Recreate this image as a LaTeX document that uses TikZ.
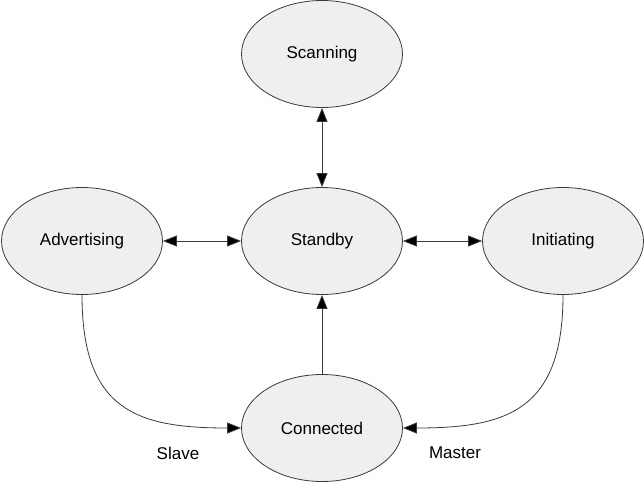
\documentclass[tikz,border=0pt]{standalone}
\usepackage{fontspec}
\setmainfont{Liberation Sans}
\usetikzlibrary{shapes.geometric,arrows.meta}
\definecolor{statefill}{HTML}{EFEFEF}
\definecolor{edge}{HTML}{3A3A3A}
\begin{document}
\begin{tikzpicture}[x=1pt,y=1pt,
  tip/.tip={Triangle[length=14pt,width=11pt,fill=black]},
  state/.style={ellipse,draw=edge,fill=statefill,line width=0.8pt,minimum width=161pt,minimum height=107pt,inner sep=0pt,font=\fontsize{17}{20}\selectfont},
  conn/.style={draw=edge,line width=0.8pt,-tip},
  biconn/.style={draw=edge,line width=0.8pt,tip-tip},
  lbl/.style={font=\fontsize{17}{20}\selectfont}]
\useasboundingbox (0,0) rectangle (644,483);
\node[state] (scan) at (322,429) {Scanning};
\node[state] (adv) at (82,242) {Advertising};
\node[state] (stand) at (322,242) {Standby};
\node[state] (init) at (563,242) {Initiating};
\node[state] (con) at (322,55) {Connected};
\draw[biconn] (scan) -- (stand);
\draw[biconn] (adv) -- (stand);
\draw[biconn] (stand) -- (init);
\draw[conn] (con) -- (stand);
\draw[conn] (adv.south) .. controls +(0,-115) and +(-105,0) .. (con.west);
\draw[conn] (init.south) .. controls +(0,-115) and +(105,0) .. (con.east);
\node[lbl] (slave) at (178,30) {Slave};
\node[lbl] (master) at (455,30) {Master};
\end{tikzpicture}
\end{document}
